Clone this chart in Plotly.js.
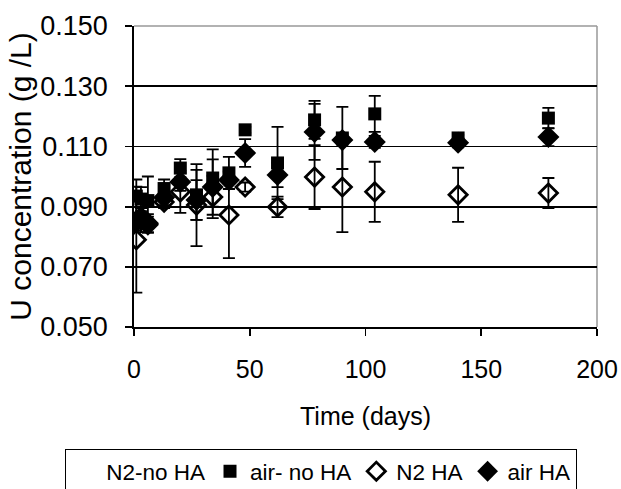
<!DOCTYPE html>
<html><head><meta charset="utf-8">
<script src="https://cdn.plot.ly/plotly-3.0.1.min.js"></script>
<style>html,body{margin:0;padding:0;background:#fff;}</style>
</head><body><div id="chart" style="width:621px;height:489px;"></div>
<script>
const seriesNames = ["N2-no HA", "air- no HA", "N2 HA", "air HA"];
const days = [1, 3, 6, 13, 20, 27, 34, 41, 48, 62, 78, 90, 104, 140, 179];
const airNoHA    = [0.0935, 0.0925, 0.0920, 0.0960, 0.1028, 0.0939, 0.0995, 0.1012, 0.1155, 0.1045, 0.1188, 0.1128, 0.1208, 0.1128, 0.1194];
const airNoHAErr = [0.0055, 0.0040, 0.0080, 0.0030, 0.0030, 0.0083, 0.0095, 0.0053, 0.0010, 0.0120, 0.0063, 0.0103, 0.0060, 0.0010, 0.0034];
const n2HA       = [0.0790, 0.0855, 0.0845, 0.0915, 0.0949, 0.0905, 0.0932, 0.0872, 0.0965, 0.0899, 0.0998, 0.0965, 0.0949, 0.0939, 0.0945];
const n2HAErr    = [0.0176, 0.0040, 0.0030, 0.0020, 0.0070, 0.0136, 0.0070, 0.0143, 0.0015, 0.0034, 0.0106, 0.0150, 0.0100, 0.0090, 0.0050];
const airHA      = [0.0850, 0.0865, 0.0840, 0.0930, 0.0982, 0.0922, 0.0965, 0.0988, 0.1078, 0.1005, 0.1148, 0.1121, 0.1115, 0.1112, 0.1131];
const airHAErr   = [0.0030, 0.0030, 0.0027, 0.0025, 0.0030, 0.0066, 0.0092, 0.0030, 0.0046, 0.0040, 0.0093, 0.0020, 0.0020, 0.0015, 0.0030];
const n2NoHA     = [null];
const yTicks = [0.05, 0.07, 0.09, 0.11, 0.13, 0.15];
const xTicks = [0, 50, 100, 150, 200];

const errStyle = (arr) => ({type: 'data', array: arr, visible: true, color: '#000', thickness: 1.8, width: 6});

const traces = [
  {name: seriesNames[0], x: n2NoHA, y: n2NoHA, type: 'scatter', mode: 'markers',
   marker: {symbol: 'square', size: 12, color: 'rgba(0,0,0,0)', line: {width: 0}}},
  {name: seriesNames[1], x: days, y: airNoHA, type: 'scatter', mode: 'markers',
   error_y: errStyle(airNoHAErr),
   marker: {symbol: 'square', size: 13, color: '#000', line: {width: 0}}},
  {name: seriesNames[2], x: days, y: n2HA, type: 'scatter', mode: 'markers',
   error_y: errStyle(n2HAErr),
   marker: {symbol: 'diamond-open', size: 14, color: '#000', line: {width: 2.8, color: '#000'}}},
  {name: seriesNames[3], x: days, y: airHA, type: 'scatter', mode: 'markers',
   error_y: errStyle(airHAErr),
   marker: {symbol: 'diamond', size: 17, color: '#000', line: {width: 0}}}
];

const font = {family: 'Liberation Sans, Arial, sans-serif', color: '#000'};

const layout = {
  width: 621, height: 489,
  margin: {l: 134, r: 24, t: 26, b: 162, autoexpand: false},
  paper_bgcolor: '#fff', plot_bgcolor: '#fff',
  font: Object.assign({size: 24}, font),
  showlegend: true,
  legend: {orientation: 'h', x: -0.149, xanchor: 'left', y: -0.405, yanchor: 'top',
           bordercolor: '#000', borderwidth: 1.2, font: Object.assign({size: 22.5}, font),
           itemwidth: 30, tracegroupgap: 0},
  xaxis: {range: [0, 200], tickvals: xTicks, ticktext: xTicks.map(String), automargin: false,
          showgrid: false, zeroline: false, showline: true, linecolor: '#000', linewidth: 1.8,
          ticks: 'outside', ticklen: 7, tickwidth: 1.8, tickcolor: '#000', ticklabelstandoff: 12,
          tickfont: Object.assign({size: 25}, font),
          title: {text: 'Time (days)', font: Object.assign({size: 25}, font), standoff: 26}},
  yaxis: {range: [0.05, 0.15], tickvals: yTicks, ticktext: yTicks.map(v => v.toFixed(3)), automargin: false,
          showgrid: true, gridcolor: '#000', gridwidth: 1.8, zeroline: false,
          showline: true, linecolor: '#000', linewidth: 1.8,
          ticks: 'outside', ticklen: 7, tickwidth: 1.8, tickcolor: '#000', ticklabelstandoff: 12,
          tickfont: Object.assign({size: 27}, font),
          title: {text: 'U concentration (g /L)', font: Object.assign({size: 30}, font), standoff: 0}},
  shapes: [
    {type: 'line', xref: 'paper', yref: 'paper', x0: 0, x1: 1, y0: 1, y1: 1, line: {color: '#999', width: 1.5}, layer: 'below'},
    {type: 'line', xref: 'paper', yref: 'paper', x0: 1, x1: 1, y0: 0, y1: 1, line: {color: '#999', width: 1.5}, layer: 'below'}
  ]
};

Plotly.newPlot('chart', traces, layout, {displayModeBar: false, staticPlot: true});
</script>
</body></html>
